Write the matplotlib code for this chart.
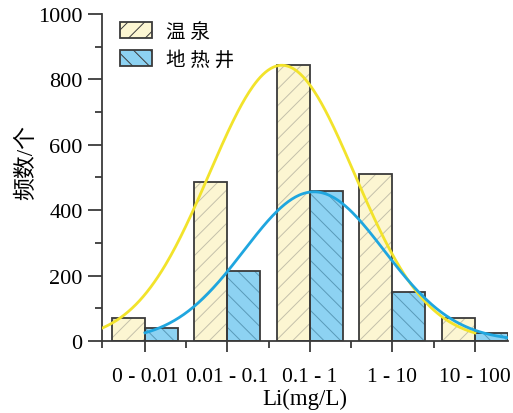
import numpy as np
import matplotlib
matplotlib.use('Agg')
import matplotlib.pyplot as plt
from matplotlib.patches import Patch
from matplotlib.ticker import FixedLocator, MultipleLocator

plt.rcParams['font.family'] = ['Liberation Serif', 'Noto Sans CJK SC']
plt.rcParams['hatch.linewidth'] = 0.7

categories = ['0 - 0.01', '0.01 - 0.1', '0.1 - 1', '1 - 10', '10 - 100']
hot_spring = [70, 487, 843, 512, 70]
geo_well = [40, 213, 460, 150, 25]

# gaussian fit parameters (peak, centre, width)
hot_fit = (843, 1.66, 0.88)
well_fit = (456, 2.05, 0.85)
hot_range = (-0.52, 4.0)
well_range = (0.0, 4.4)

fig = plt.figure(figsize=(5.13, 4.14), dpi=100)
ax = fig.add_axes([0.199, 0.174, 0.791, 0.79])

x = np.arange(len(categories))
w = 0.4
hot_col = '#fcf6d2'
well_col = '#8dd2f2'
edge = '#3a3a3a'

ax.bar(x, hot_spring, -w, align='edge', color=hot_col, hatch='//', edgecolor='#c4c0aa', lw=0, zorder=2)
ax.bar(x, hot_spring, -w, align='edge', fill=False, edgecolor=edge, lw=1.3, zorder=3)
ax.bar(x, geo_well, w, align='edge', color=well_col, hatch='\\\\', edgecolor='#5a9ab8', lw=0, zorder=2)
ax.bar(x, geo_well, w, align='edge', fill=False, edgecolor=edge, lw=1.3, zorder=3)


def gauss(t, p):
    a, mu, s = p
    return a * np.exp(-(t - mu) ** 2 / (2 * s ** 2))


t1 = np.linspace(*hot_range, 300)
t2 = np.linspace(*well_range, 300)
ax.plot(t1, gauss(t1, hot_fit), color='#f2e32b', lw=2, zorder=4)
ax.plot(t2, gauss(t2, well_fit), color='#1fa6df', lw=2, zorder=5)

ax.set_xlim(-0.52, 4.4)
ax.set_ylim(0, 1000)
ax.spines['top'].set_visible(False)
ax.spines['right'].set_visible(False)
for s in ['left', 'bottom']:
    ax.spines[s].set_linewidth(1.3)
    ax.spines[s].set_color(edge)

ax.xaxis.set_major_locator(FixedLocator(list(x)))
ax.set_xticklabels(categories, fontsize=15.5)
ax.xaxis.set_minor_locator(FixedLocator([-0.52, 0.5, 1.5, 2.5, 3.5]))
ax.yaxis.set_major_locator(MultipleLocator(200))
ax.yaxis.set_minor_locator(MultipleLocator(100))
ax.tick_params(axis='x', which='major', length=8, width=1.3, color=edge, pad=11)
ax.tick_params(axis='x', which='minor', length=5, width=1.3, color=edge)
ax.tick_params(axis='y', which='major', length=10, width=1.3, color=edge, labelsize=16, pad=4)
ax.tick_params(axis='y', which='minor', length=5, width=1.3, color=edge)

ax.set_xlabel('Li(mg/L)', fontsize=16.5, labelpad=1)
ax.set_ylabel('频数/个', fontsize=16.5)
ax.yaxis.set_label_coords(-0.16, 0.55)

handles = [Patch(facecolor=hot_col, edgecolor=edge, hatch='//', lw=1.3),
           Patch(facecolor=well_col, edgecolor=edge, hatch='\\\\', lw=1.3)]
ax.legend(handles, ['温 泉', '地 热 井'], loc='upper left', bbox_to_anchor=(0.044, 0.975),
          frameon=False, fontsize=14, borderpad=0, borderaxespad=0,
          handlelength=1.65, handleheight=0.9, handletextpad=0.7, labelspacing=0.45)

fig.savefig('out.png', dpi=100)
